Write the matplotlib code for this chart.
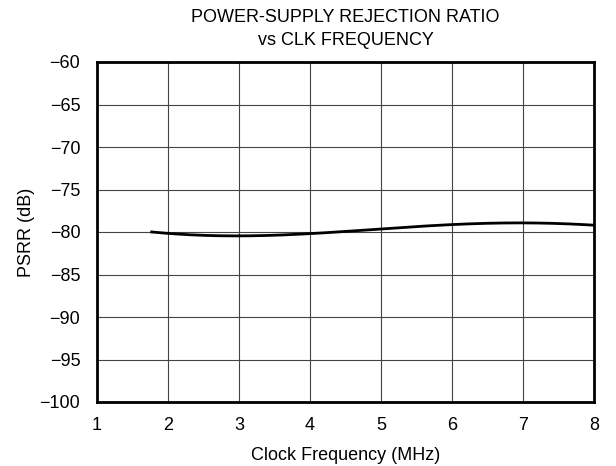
import numpy as np
import matplotlib
matplotlib.use("Agg")
import matplotlib.pyplot as plt

plt.rcParams['font.family'] = ['Liberation Sans', 'DejaVu Sans']

freq = [1.77, 2.0, 2.5, 3.0, 3.5, 4.0, 4.5, 5.0, 5.5, 6.0, 6.5, 7.0, 7.5, 8.0]
psrr = [-80.0, -80.15, -80.4, -80.47, -80.38, -80.15, -79.95, -79.68, -79.35, -79.1, -78.98, -78.94, -79.0, -79.2]
xticks = [1, 2, 3, 4, 5, 6, 7, 8]
yticks = [-100, -95, -90, -85, -80, -75, -70, -65, -60]

fig = plt.figure(figsize=(6.16, 4.66), dpi=100)
ax = fig.add_axes([97/616, 1-402/466, 497/616, 340/466])

xs = np.linspace(freq[0], freq[-1], 300)
coef = np.polyfit(freq, psrr, 5)
ax.plot(xs, np.polyval(coef, xs), color='black', lw=2)

ax.set_xlim(1, 8)
ax.set_ylim(-100, -60)
ax.set_xticks(xticks)
ax.set_yticks(yticks)
ax.set_yticklabels([f"\u2212{abs(v)}" for v in yticks])
ax.grid(True, color='#444444', lw=0.8)
ax.tick_params(length=0, labelsize=13)
ax.tick_params(axis='y', pad=12)
ax.tick_params(axis='x', pad=11)
for s in ax.spines.values():
    s.set_linewidth(2)
ax.set_xlabel("Clock Frequency (MHz)", fontsize=13, labelpad=9)
ax.set_ylabel("PSRR (dB)", fontsize=13, labelpad=3)
ax.set_title("POWER-SUPPLY REJECTION RATIO\nvs CLK FREQUENCY", fontsize=13, pad=12, linespacing=1.5)

fig.savefig("out.png", dpi=100)
